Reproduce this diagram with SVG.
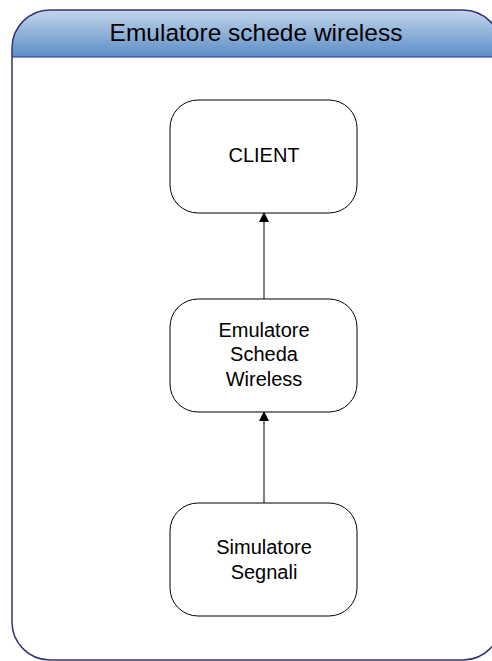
<svg xmlns="http://www.w3.org/2000/svg" width="492" height="661" viewBox="0 0 492 661">
<style>
.node rect{fill:#fff;stroke:#000;stroke-width:1}
.lbl{font-family:"Liberation Sans",Arial,sans-serif;font-size:20px;fill:#000;text-anchor:middle}
.title{font-family:"Liberation Sans",Arial,sans-serif;font-size:24.5px;fill:#000;text-anchor:middle}
.conn line{stroke:#000;stroke-width:1}
</style>
<defs>
<linearGradient id="hdr" x1="0" y1="0" x2="0" y2="1">
<stop offset="0" stop-color="#c3d5ea"/>
<stop offset="1" stop-color="#5a8ec7"/>
</linearGradient>
<clipPath id="cl"><rect x="12" y="10" width="489" height="650" rx="38" ry="38"/></clipPath>
<marker id="arr" markerWidth="10" markerHeight="10" refX="9" refY="5" orient="auto" markerUnits="userSpaceOnUse">
<path d="M0,0 L10,5 L0,10 z" fill="#000"/>
</marker>
</defs>
<g id="container">
<rect x="12" y="10" width="489" height="650" rx="38" ry="38" fill="#fff"/>
<rect x="12" y="10" width="489" height="47" fill="url(#hdr)" clip-path="url(#cl)"/>
<line x1="12" y1="57" x2="501" y2="57" stroke="#33337a" stroke-width="1.2"/>
<rect x="12" y="10" width="489" height="650" rx="38" ry="38" fill="none" stroke="#33337a" stroke-width="1.5"/>
<text class="title" x="256" y="41">Emulatore schede wireless</text>
</g>
<g class="conn" id="connectors">
<line x1="264" y1="299" x2="264" y2="213" marker-end="url(#arr)"/>
<line x1="264" y1="503" x2="264" y2="412" marker-end="url(#arr)"/>
</g>
<g class="node" id="client">
<rect x="170" y="100" width="187" height="113" rx="28" ry="28"/>
<text class="lbl" x="264" y="162">CLIENT</text>
</g>
<g class="node" id="emulatore">
<rect x="170" y="299" width="187" height="113" rx="28" ry="28"/>
<text class="lbl" x="264" y="337">Emulatore</text>
<text class="lbl" x="264" y="361">Scheda</text>
<text class="lbl" x="264" y="386">Wireless</text>
</g>
<g class="node" id="simulatore">
<rect x="170" y="503" width="187" height="113" rx="28" ry="28"/>
<text class="lbl" x="264" y="554">Simulatore</text>
<text class="lbl" x="264" y="579">Segnali</text>
</g>
</svg>
